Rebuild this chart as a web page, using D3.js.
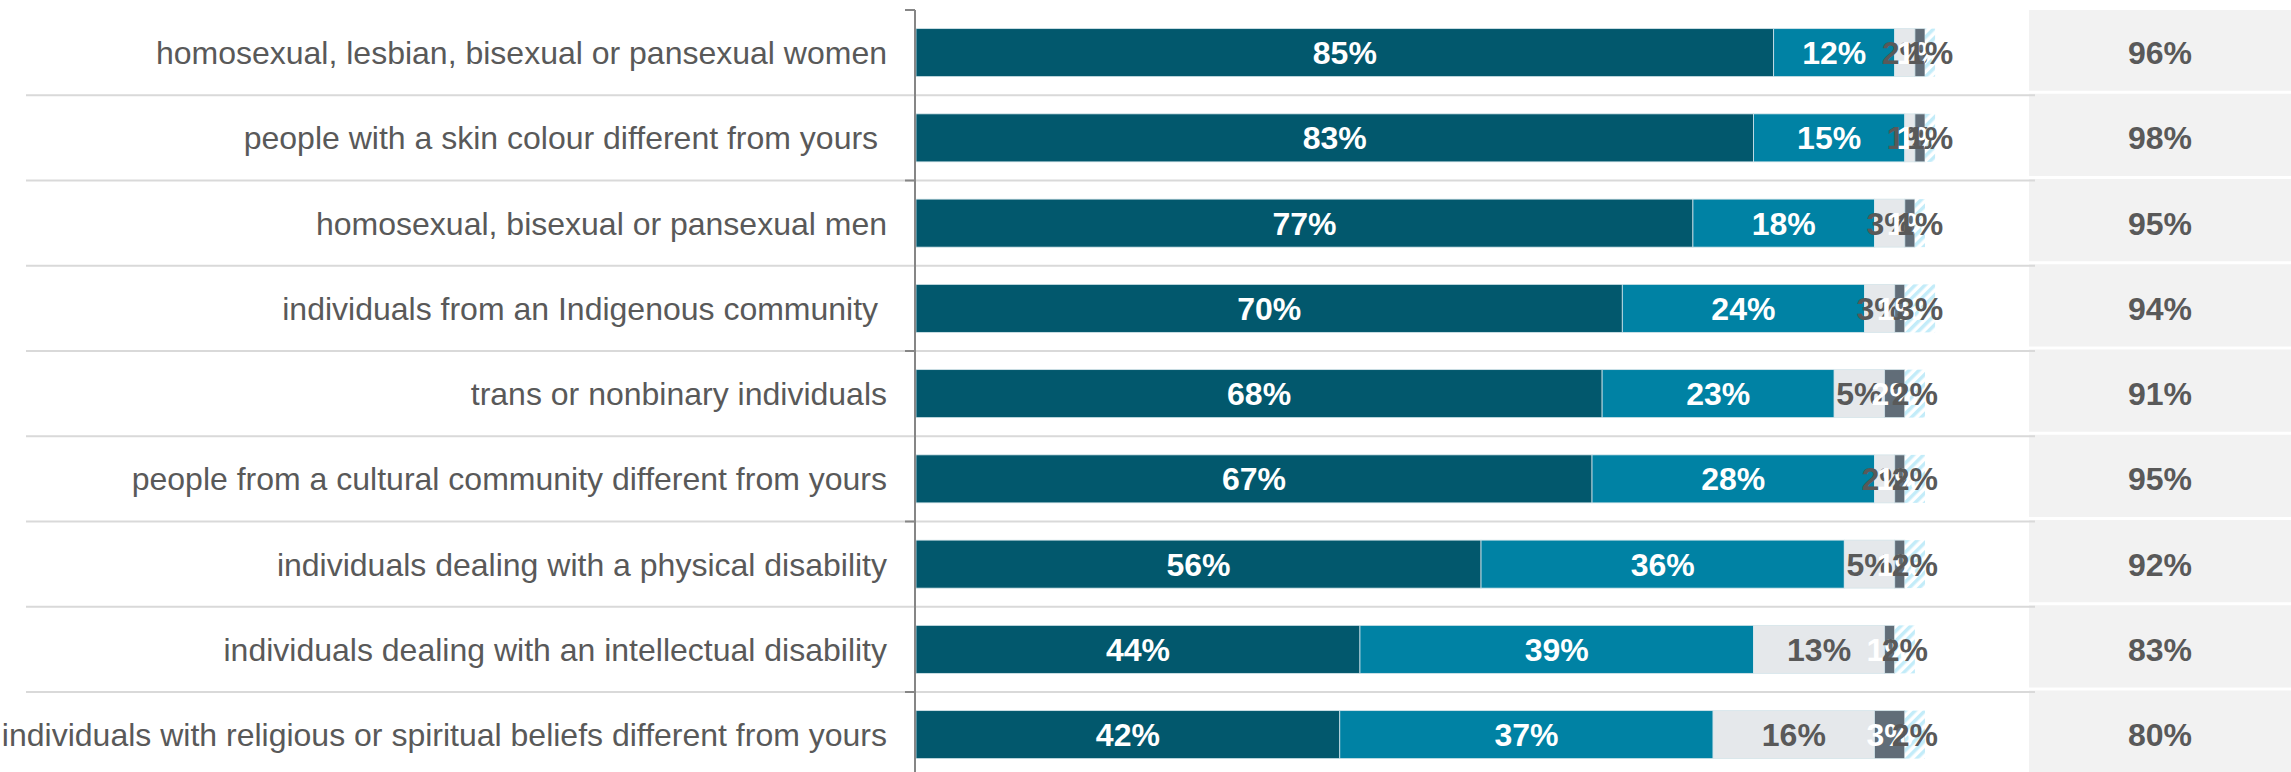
<!DOCTYPE html>
<html>
<head>
<meta charset="utf-8">
<script src="https://cdn.jsdelivr.net/npm/d3@7"></script>
<style>
  html, body { margin: 0; padding: 0; background: #fff; }
  svg { display: block; }
  text { font-family: "Liberation Sans", Arial, sans-serif; }
</style>
</head>
<body>
<script>
const categories = [
  "homosexual, lesbian, bisexual or pansexual women",
  "people with a skin colour different from yours ",
  "homosexual, bisexual or pansexual men",
  "individuals from an Indigenous community ",
  "trans or nonbinary individuals",
  "people from a cultural community different from yours",
  "individuals dealing with a physical disability",
  "individuals dealing with an intellectual disability",
  "individuals with religious or spiritual beliefs different from yours"
];
const seriesNames = ["s1", "s2", "s3", "s4", "s5"];
const s1 = [85, 83, 77, 70, 68, 67, 56, 44, 42];
const s2 = [12, 15, 18, 24, 23, 28, 36, 39, 37];
const s3 = [2, 1, 3, 3, 5, 2, 5, 13, 16];
const s4 = [1, 1, 1, 1, 2, 1, 1, 1, 3];
const s5 = [1, 1, 1, 3, 2, 2, 2, 2, 2];
const totals = [96, 98, 95, 94, 91, 95, 92, 83, 80];

const seriesValues = [s1, s2, s3, s4, s5];
const fills = ["#02586d", "#0082a4", "#e5e8eb", "#616d78", "url(#hatch)"];
const labelColors = ["#ffffff", "#ffffff", "#595959", "#ffffff", "#595959"];

const W = 2291, H = 772;
const svg = d3.select("body").append("svg").attr("width", W).attr("height", H);

const defs = svg.append("defs");
const pat = defs.append("pattern").attr("id", "hatch")
  .attr("patternUnits", "userSpaceOnUse").attr("width", 7).attr("height", 7)
  .attr("patternTransform", "rotate(45)");
pat.append("rect").attr("width", 7).attr("height", 7).attr("fill", "#ffffff");
pat.append("rect").attr("width", 3.5).attr("height", 7).attr("fill", "#c3ecf9");

const topY = 10, rowStep = 85.25;
const n = categories.length;
const p = 0.437;
const y = d3.scaleBand().domain(categories)
  .range([topY, topY + n * rowStep]).paddingInner(p).paddingOuter(p / 2);
const rows = d3.scaleBand().domain(categories).range([topY, topY + n * rowStep]).padding(0);
const x = d3.scaleLinear().domain([0, 100]).range([916, 1925]);

// right-side boxes
const boxX0 = 2029, boxX1 = 2291;
svg.append("g").selectAll("rect").data(categories).join("rect")
  .attr("x", boxX0).attr("width", boxX1 - boxX0)
  .attr("y", (d, i) => i === 0 ? rows(d) : rows(d) - 1.5)
  .attr("height", (d, i) => i === 0 ? rows.bandwidth() - 4.5 : rows.bandwidth() - 3)
  .attr("fill", "#f2f2f2");

// gridlines
svg.append("g").selectAll("line").data(categories.slice(1)).join("line")
  .attr("x1", 26).attr("x2", 2035)
  .attr("y1", d => rows(d)).attr("y2", d => rows(d))
  .attr("stroke", "#d9d9d9").attr("stroke-width", 2);

// stacked data
const stackData = categories.map((c, i) => {
  const o = { cat: c };
  seriesNames.forEach((s, k) => o[s] = seriesValues[k][i]);
  return o;
});
const stacked = d3.stack().keys(seriesNames)(stackData);

const barsG = svg.append("g");
stacked.forEach((layer, k) => {
  barsG.append("g").selectAll("rect").data(layer).join("rect")
    .attr("x", d => x(d[0]))
    .attr("width", d => x(d[1]) - x(d[0]))
    .attr("y", d => y(d.data.cat))
    .attr("height", y.bandwidth())
    .attr("fill", fills[k])
    .attr("stroke", k === 4 ? "none" : "#d3e4ea")
    .attr("stroke-width", 0.8);
});

const labG = svg.append("g");
stacked.forEach((layer, k) => {
  labG.append("g").selectAll("text").data(layer).join("text")
    .attr("x", d => (x(d[0]) + x(d[1])) / 2)
    .attr("y", d => y(d.data.cat) + y.bandwidth() / 2)
    .attr("dy", "0.36em")
    .attr("text-anchor", "middle")
    .attr("font-size", 32)
    .attr("font-weight", "bold")
    .attr("fill", labelColors[k])
    .text(d => (d[1] - d[0]) + "%");
});

// axis line and ticks
const axG = svg.append("g");
axG.append("line").attr("x1", 915).attr("x2", 915).attr("y1", topY).attr("y2", H)
  .attr("stroke", "#868686").attr("stroke-width", 2);
const tickCats = categories.filter((d, i) => i % 2 === 0);
axG.selectAll("line.tick").data(tickCats).join("line").attr("class", "tick")
  .attr("x1", 905).attr("x2", 915)
  .attr("y1", d => rows(d)).attr("y2", d => rows(d))
  .attr("stroke", "#868686").attr("stroke-width", 2);

// category labels
svg.append("g").selectAll("text").data(categories).join("text")
  .attr("x", 887)
  .attr("y", d => rows(d) + rows.bandwidth() / 2)
  .attr("dy", "0.36em")
  .attr("text-anchor", "end")
  .attr("font-size", 32)
  .attr("fill", "#595959")
  .style("white-space", "pre")
  .text(d => d);

// totals
svg.append("g").selectAll("text").data(categories).join("text")
  .attr("x", (boxX0 + boxX1) / 2)
  .attr("y", d => rows(d) + rows.bandwidth() / 2)
  .attr("dy", "0.36em")
  .attr("text-anchor", "middle")
  .attr("font-size", 32)
  .attr("font-weight", "bold")
  .attr("fill", "#595959")
  .text((d, i) => totals[i] + "%");
</script>
</body>
</html>
